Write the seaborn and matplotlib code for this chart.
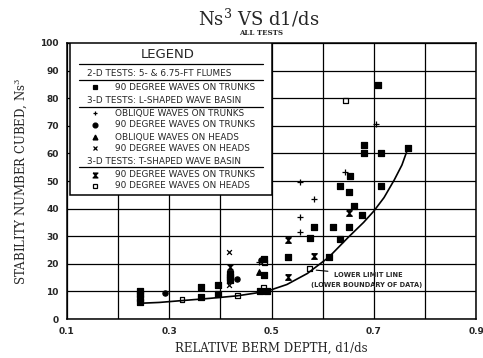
import numpy as np
import pandas as pd
import seaborn as sns
import matplotlib.pyplot as plt
from matplotlib.patches import Rectangle

# values
# 2-D flume tests, 90 degree waves on trunks
flume_x = [0.242, 0.242, 0.242, 0.242, 0.362, 0.362, 0.395, 0.395, 0.418, 0.418, 0.418,
           0.477, 0.491, 0.485, 0.485, 0.533, 0.575, 0.583, 0.612, 0.620, 0.633, 0.633,
           0.651, 0.651, 0.653, 0.662, 0.676, 0.680, 0.680, 0.714, 0.714, 0.708, 0.766]
flume_y = [6.2, 7.6, 9.0, 10.0, 11.6, 8.1, 12.3, 9.2, 16.3, 14.3, 15.2,
           10.2, 10.2, 15.8, 21.8, 22.6, 29.2, 33.5, 22.4, 33.2, 48.3, 29.0,
           33.2, 45.9, 51.8, 40.8, 37.7, 63.0, 60.3, 60.3, 48.2, 84.8, 61.8]
# 3-D L-shaped basin
obl_trunk_x = [0.556, 0.583, 0.556, 0.556, 0.643, 0.475, 0.705]
obl_trunk_y = [49.6, 43.4, 36.8, 31.6, 53.4, 20.5, 70.5]
l90_trunk_x = [0.433, 0.480, 0.292]
l90_trunk_y = [14.5, 21.3, 9.6]
obl_head_x = [0.475]
obl_head_y = [17.0]
l90_head_x = [0.417, 0.417]
l90_head_y = [24.1, 12.2]
# 3-D T-shaped basin
t90_trunk_x = [0.533, 0.533, 0.583, 0.651, 0.418]
t90_trunk_y = [28.6, 15.4, 23.0, 38.3, 19.0]
t90_head_x = [0.645, 0.574, 0.485, 0.487, 0.325, 0.433]
t90_head_y = [79.1, 18.3, 11.6, 20.5, 7.0, 8.5]

# lower limit line
curve_x = [0.242, 0.28, 0.32, 0.38, 0.433, 0.49, 0.53, 0.57, 0.612, 0.65, 0.68, 0.70,
           0.72, 0.74, 0.755, 0.766]
curve_y = [5.7, 6.0, 6.6, 7.5, 8.4, 10.0, 12.5, 16.5, 22.4, 29.6, 35.0, 39.1,
           44.0, 50.4, 55.8, 61.5]

hourglass = [(-1, 1), (1, 1), (-1, -1), (1, -1), (-1, 1)]

groups = [
    (flume_x, flume_y, 's', 14, 'black'),
    (obl_trunk_x, obl_trunk_y, '+', 14, 'black'),
    (l90_trunk_x, l90_trunk_y, 'o', 14, 'black'),
    (obl_head_x, obl_head_y, '^', 16, 'black'),
    (l90_head_x, l90_head_y, 'x', 12, 'black'),
    (t90_trunk_x, t90_trunk_y, hourglass, 16, 'black'),
    (t90_head_x, t90_head_y, 's', 12, 'none'),
]

sns.set_style('white')
plt.rcParams['font.family'] = ['DejaVu Sans']
plt.rcParams['mathtext.default'] = 'regular'

fig = plt.figure(figsize=(4.83, 3.58), dpi=100)
ax = fig.add_axes([0.1387, 0.1089, 0.847, 0.771])

for gx, gy, mk, sz, fc in groups:
    df = pd.DataFrame({'x': gx, 'y': gy})
    sns.scatterplot(data=df, x='x', y='y', marker=mk, s=sz, color='black',
                    facecolor=fc, edgecolor='black', linewidth=0.9, ax=ax, zorder=2)

sns.lineplot(x=curve_x, y=curve_y, sort=False, color='black', lw=1.2, ax=ax, zorder=2)

ax.set_xlim(0.1, 0.9)
ax.set_ylim(0, 100)
ax.set_xticks(np.arange(0.1, 0.91, 0.1))
ax.set_xticklabels(['0.1', '', '0.3', '', '0.5', '', '0.7', '', '0.9'])
ax.set_yticks(range(0, 101, 10))
ax.grid(True, color='black', lw=0.9)
ax.set_axisbelow(True)
for sp in ax.spines.values():
    sp.set_color('black')
    sp.set_linewidth(1.1)
ax.tick_params(direction='inout', length=6, width=1, labelsize=6.5, pad=3)
for lbl in ax.get_xticklabels() + ax.get_yticklabels():
    lbl.set_fontweight('bold')

ax.set_xlabel('RELATIVE BERM DEPTH, d1/ds', family='DejaVu Serif', fontsize=8.5, labelpad=4)
ax.set_ylabel('STABILITY NUMBER CUBED, Ns$^3$', family='DejaVu Serif', fontsize=8.5, labelpad=7)
fig.text(0.535, 0.948, 'Ns$^3$ VS d1/ds', family='DejaVu Serif', fontsize=13,
         ha='center', va='center')
fig.text(0.54, 0.907, 'ALL TESTS', family='DejaVu Serif', fontsize=5, fontweight='bold',
         ha='center', va='center')

# annotation of lower limit line
ax.annotate('LOWER LIMIT LINE', xy=(0.582, 17.8), xytext=(0.622, 15.9),
            fontsize=4.8, fontweight='bold', va='center', ha='left',
            arrowprops=dict(arrowstyle='-', color='black', lw=0.8))
ax.text(0.578, 12.3, '(LOWER BOUNDARY OF DATA)', fontsize=4.8, fontweight='bold',
        va='center', ha='left')

# legend box
tr = ax.transAxes
ax.add_patch(Rectangle((0.007, 0.449), 0.493, 0.551, transform=tr, fc='white',
                       ec='black', lw=1.1, zorder=3))
ax.text(0.245, 0.957, 'LEGEND', transform=tr, fontsize=9.5, ha='center', va='center', zorder=4)
for fy in [0.923, 0.866, 0.767, 0.552]:
    ax.plot([0.03, 0.48], [fy, fy], transform=tr, color='black', lw=0.9, zorder=4)

headers = [(0.890, '2-D TESTS: 5- & 6.75-FT FLUMES'),
           (0.790, '3-D TESTS: L-SHAPED WAVE BASIN'),
           (0.572, '3-D TESTS: T-SHAPED WAVE BASIN')]
for fy, txt in headers:
    ax.text(0.049, fy, txt, transform=tr, fontsize=6.4, va='center', ha='left', zorder=4)

rows = [(0.839, 's', 'black', '90 DEGREE WAVES ON TRUNKS'),
        (0.745, '+', 'black', 'OBLIQUE WAVES ON TRUNKS'),
        (0.703, 'o', 'black', '90 DEGREE WAVES ON TRUNKS'),
        (0.658, '^', 'black', 'OBLIQUE WAVES ON HEADS'),
        (0.618, 'x', 'black', '90 DEGREE WAVES ON HEADS'),
        (0.522, hourglass, 'black', '90 DEGREE WAVES ON TRUNKS'),
        (0.482, 's', 'none', '90 DEGREE WAVES ON HEADS')]
for fy, mk, fc, txt in rows:
    ax.plot([0.068], [fy], marker=mk, ms=3.5, mfc=fc, mec='black', mew=0.9,
            ls='none', transform=tr, zorder=4)
    ax.text(0.117, fy, txt, transform=tr, fontsize=6.4, va='center', ha='left', zorder=4)

fig.savefig('out.png', dpi=100)
